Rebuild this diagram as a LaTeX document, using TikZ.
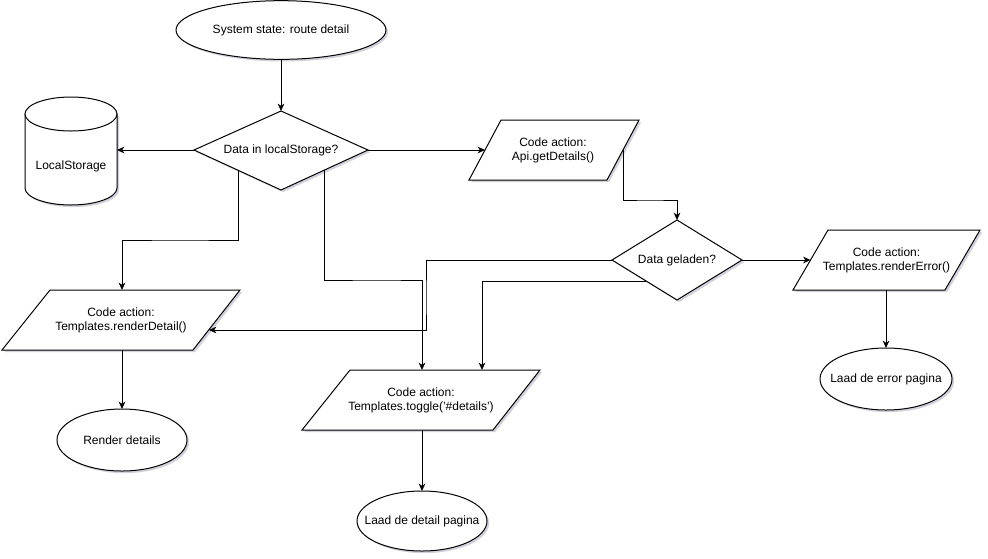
\documentclass[tikz,border=0pt]{standalone}
\usepackage{fontspec}
\setmainfont{Liberation Sans}
\usetikzlibrary{arrows.meta,shadows,shapes.geometric}
\begin{document}
\begin{tikzpicture}[x=0.75pt,y=-0.75pt,
  box/.style={draw=black, line width=0.75pt, fill=white,
    drop shadow={shadow xshift=1.6pt, shadow yshift=-1.6pt, opacity=0.25, fill=blue!20!black!70}},
  lbl/.style={font=\fontsize{9pt}{10.6pt}\selectfont, align=center, inner sep=0pt},
  conn/.style={draw=black, line width=0.75pt, -{Stealth[length=5.5pt,width=5pt,inset=1.6pt]}}]
\useasboundingbox (0,0) rectangle (988,558);

% start terminal
\path[box] (281,30) ellipse [x radius=78.75pt, y radius=22pt];
\node[lbl] (start) at (281,30) {System state: route detail};
\coordinate (startb) at (281,59.3);

% diamond 1
\path[box] (194,150) -- (281,111) -- (368,150) -- (281,190) -- cycle;
\node[lbl] (d1) at (281,150) {Data in localStorage?};
\coordinate (d1t) at (281,111);
\coordinate (d1l) at (194,150);
\coordinate (d1r) at (368,150);
\coordinate (d1bl) at (238,170);
\coordinate (d1br) at (324,170);

% cylinder
\path[box] (25,114) -- (25,188) arc[start angle=180, end angle=360, x radius=34.5pt, y radius=12.75pt] -- (117,114) -- cycle;
\draw[line width=0.75pt, fill=white] (71,114) ellipse [x radius=34.5pt, y radius=12.75pt];
\node[lbl] (ls) at (71,166) {LocalStorage};
\coordinate (lsr) at (117,150);

% Api.getDetails parallelogram
\path[box] (501,120) -- (639,120) -- (607,180) -- (469,180) -- cycle;
\node[lbl] (api) at (553,150) {Code action:\\Api.getDetails()};
\coordinate (apil) at (485,150);
\coordinate (apir) at (623,150);

% diamond 2
\path[box] (612,260) -- (677,220) -- (742,260) -- (677,300) -- cycle;
\node[lbl] (d2) at (677,260) {Data geladen?};
\coordinate (d2t) at (677,220);
\coordinate (d2l) at (612,260);
\coordinate (d2r) at (742,260);
\coordinate (d2bl) at (646,281);

% renderError parallelogram
\path[box] (828,230) -- (980,230) -- (945,290) -- (793,290) -- cycle;
\node[lbl] (rerr) at (886.5,260) {Code action:\\Templates.renderError()};
\coordinate (rerrl) at (810.5,260);
\coordinate (rerrb) at (886,290);

% renderDetail parallelogram
\path[box] (50,290) -- (240,290) -- (193,350) -- (2,350) -- cycle;
\node[lbl] (rdet) at (121,320) {Code action:\\Templates.renderDetail()};
\coordinate (rdett) at (122,290);
\coordinate (rdetr) at (209,330);
\coordinate (rdetb) at (122,350);

% toggle parallelogram
\path[box] (350,370) -- (540,370) -- (493,430) -- (302,430) -- cycle;
\node[lbl] (tog) at (421,400) {Code action:\\Templates.toggle('\#details')};
\coordinate (togta) at (422,370);
\coordinate (togtb) at (482,370);
\coordinate (togb) at (422,430);

% terminals
\path[box] (122,440) ellipse [x radius=48.75pt, y radius=23.25pt];
\node[lbl] (rd) at (122,440) {Render details};
\coordinate (rdt) at (122,409);

\path[box] (422,521) ellipse [x radius=48.75pt, y radius=22.5pt];
\node[lbl] (ldp) at (422,521) {Laad de detail pagina};
\coordinate (ldpt) at (422,491);

\path[box] (886,379) ellipse [x radius=49.5pt, y radius=23.25pt];
\node[lbl] (lep) at (886,379) {Laad de error pagina};
\coordinate (lept) at (886,348);

% connectors
\draw[conn] (startb) -- (d1t);
\draw[conn] (d1l) -- (lsr);
\draw[conn] (d1r) -- (apil);
\draw[conn] (apir) |- (650,200) -| (d2t);
\draw[conn] (d1bl) |- (180,240) -| (rdett);
\draw[conn] (d1br) |- (380,280) -| (togta);
\draw[conn] (d2l) -| (426,300) |- (rdetr);
\draw[conn] (d2bl) -| (togtb);
\draw[conn] (d2r) -- (rerrl);
\draw[conn] (rerrb) -- (lept);
\draw[conn] (rdetb) -- (rdt);
\draw[conn] (togb) -- (ldpt);
\end{tikzpicture}
\end{document}
